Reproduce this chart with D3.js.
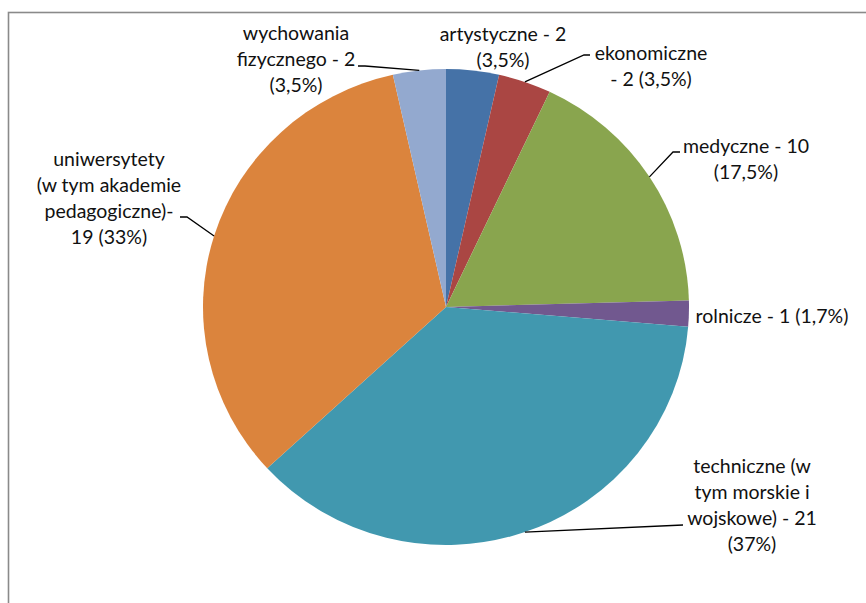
<!DOCTYPE html>
<html>
<head>
<meta charset="utf-8">
<script src="https://cdn.jsdelivr.net/npm/d3@7/dist/d3.min.js"></script>
<style>
  html, body { margin: 0; padding: 0; background: #fff; overflow: hidden; }
  text { font-family: Lato, "Open Sans", sans-serif; fill: #111; }
</style>
</head>
<body>
<svg id="chart" width="866" height="603"></svg>
<script>
// ---- data ----
const categories = ["artystyczne", "ekonomiczne", "medyczne", "rolnicze", "techniczne", "uniwersytety", "wychowania fizycznego"];
const values = [2, 2, 10, 1, 21, 19, 2];
const labelTexts = [
  ["artystyczne - 2", "(3,5%)"],
  ["ekonomiczne", "- 2 (3,5%)"],
  ["medyczne - 10", "(17,5%)"],
  ["rolnicze - 1 (1,7%)"],
  ["techniczne (w", "tym morskie i", "wojskowe) - 21", "(37%)"],
  ["uniwersytety", "(w tym akademie", "pedagogiczne)-", "19 (33%)"],
  ["wychowania", "fizycznego - 2", "(3,5%)"]
];
const colors = ["#4572A7", "#AA4643", "#89A54E", "#71588F", "#4198AF", "#DB843D", "#93A9CF"];

// ---- layout (style, not data) ----
const cx = 446, cy = 307, rx = 243, ry = 238;
const lineH = 26;
const labelLayout = [
  { x: 503, y: 41 },
  { x: 651, y: 60, leader: [[590, 55], [584, 55]] },
  { x: 746, y: 153, leader: [[680, 152], [673, 152]] },
  { x: 772, y: 323 },
  { x: 752, y: 473, leader: [[683, 525], [683, 525]] },
  { x: 109, y: 166, leader: [[180, 217], [187, 217]] },
  { x: 296, y: 40, leader: [[358, 66], [365, 66]] }
];

const svg = d3.select("#chart");

// frame
svg.append("rect")
  .attr("x", 8.5).attr("y", 12.5)
  .attr("width", 900).attr("height", 700)
  .attr("fill", "none")
  .attr("stroke", "#8a8a8a")
  .attr("stroke-width", 1.6);

const pie = d3.pie().sort(null).value(d => d)(values);
const arc = d3.arc().innerRadius(0).outerRadius(rx);

svg.append("g")
  .attr("transform", `translate(${cx},${cy}) scale(1,${ry / rx})`)
  .selectAll("path")
  .data(pie)
  .join("path")
  .attr("d", arc)
  .attr("fill", (d, i) => colors[i]);

// leader lines
const line = d3.line();
pie.forEach((d, i) => {
  const L = labelLayout[i];
  if (!L.leader) return;
  const a = (d.startAngle + d.endAngle) / 2;
  const end = [cx + rx * Math.sin(a), cy - ry * Math.cos(a)];
  svg.append("path")
    .attr("d", line([...L.leader, end]))
    .attr("fill", "none")
    .attr("stroke", "#000")
    .attr("stroke-width", 1.3);
});

// labels
labelTexts.forEach((lines, i) => {
  const L = labelLayout[i];
  const t = svg.append("text")
    .attr("text-anchor", "middle")
    .attr("font-size", 19.5);
  lines.forEach((s, j) => {
    t.append("tspan").attr("x", L.x).attr("y", L.y + j * lineH).text(s);
  });
});
</script>
</body>
</html>
